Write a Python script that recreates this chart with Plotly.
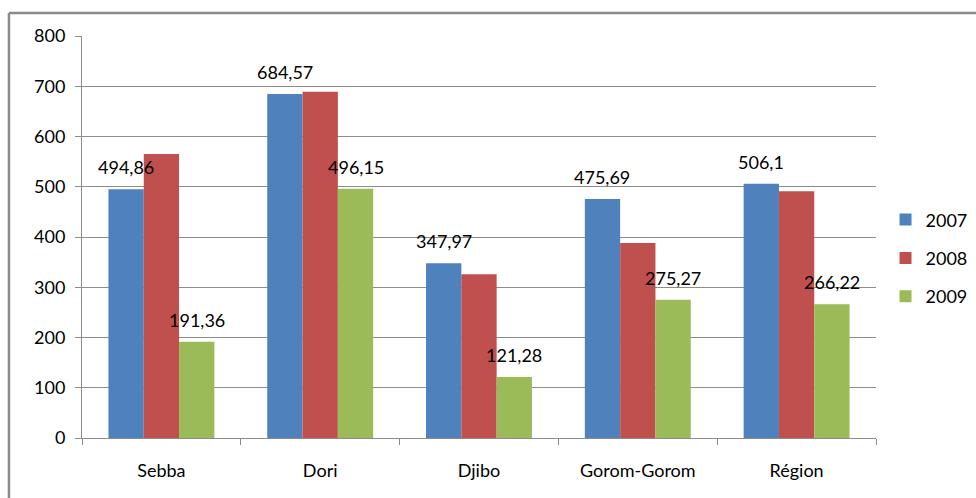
import plotly.graph_objects as go

# Districts and yearly values
categories = ["Sebba", "Dori", "Djibo", "Gorom-Gorom", "Région"]
years = ["2007", "2008", "2009"]
values_2007 = [494.86, 684.57, 347.97, 475.69, 506.1]
values_2008 = [565, 689, 326, 388, 491]
values_2009 = [191.36, 496.15, 121.28, 275.27, 266.22]
labelled = {"2007": True, "2008": False, "2009": True}
colors = ["#4F81BD", "#C0504D", "#9BBB59"]

series = [values_2007, values_2008, values_2009]
FONT = "Lato, 'Open Sans', sans-serif"
FS = 18
bargap = 0.333

fig = go.Figure()
for i, (yr, vals, col) in enumerate(zip(years, series, colors)):
    fig.add_trace(go.Bar(
        name=yr, x=categories, y=vals, marker_color=col,
        marker_line_width=0, legendgroup=yr,
    ))

# value labels above the labelled series, placed over each bar
bar_w = (1 - bargap) / len(years)
annotations = []
for i, (yr, vals) in enumerate(zip(years, series)):
    if not labelled[yr]:
        continue
    for j, v in enumerate(vals):
        txt = f"{v:g}".replace(".", ",")
        annotations.append(dict(
            x=j + (i - 1) * bar_w, y=v, xref="x", yref="y",
            text=txt, showarrow=False, yanchor="bottom", yshift=9,
            font=dict(family=FONT, size=FS, color="#000000"),
        ))

fig.update_layout(
    width=976, height=498,
    margin=dict(l=82, r=100, t=36, b=60, autoexpand=False),
    paper_bgcolor="white", plot_bgcolor="white",
    barmode="group", bargap=bargap, bargroupgap=0,
    font=dict(family=FONT, size=FS, color="#000000"),
    annotations=annotations,
    legend=dict(
        x=1.012, xanchor="left", y=0.447, yanchor="middle",
        font=dict(family=FONT, size=FS),
        traceorder="grouped", tracegroupgap=12,
        itemwidth=30, bgcolor="rgba(0,0,0,0)",
    ),
    shapes=[
        dict(type="line", xref="paper", yref="paper",
             x0=-0.092, x1=-0.092, y0=1.057, y1=-0.2,
             line=dict(color="#8A8A8A", width=2.5)),
        dict(type="line", xref="paper", yref="paper",
             x0=-0.092, x1=1.2, y0=1.057, y1=1.057,
             line=dict(color="#8A8A8A", width=2.5)),
    ],
)
fig.update_yaxes(
    range=[0, 800], dtick=100, showgrid=True, gridcolor="#8C8C8C", gridwidth=1,
    showline=True, linecolor="#8C8C8C", linewidth=1,
    ticks="outside", ticklen=6, tickcolor="#8C8C8C",
    ticklabelstandoff=6, zeroline=False,
)
fig.update_xaxes(
    showline=True, linecolor="#8C8C8C", linewidth=1,
    ticks="outside", ticklen=6, tickcolor="#8C8C8C", tickson="boundaries",
    ticklabelstandoff=16,
)

fig.write_html("out.html")
